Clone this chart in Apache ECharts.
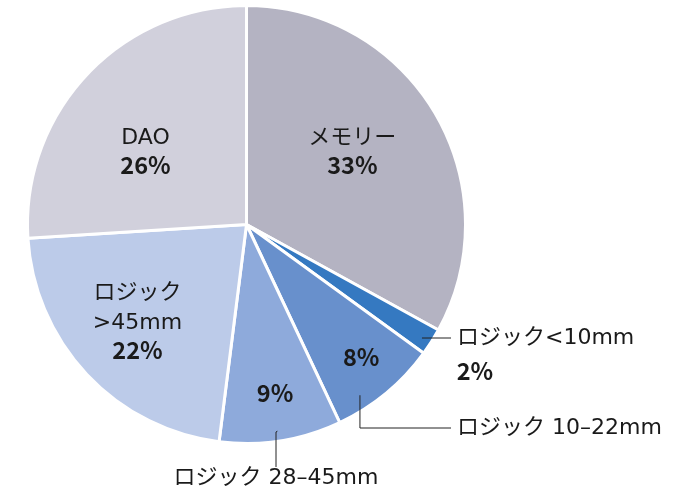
<!DOCTYPE html>
<html><head><meta charset="utf-8">
<script src="https://cdn.jsdelivr.net/npm/echarts@6/dist/echarts.min.js"></script>
<style>html,body{margin:0;padding:0;background:#fff}#c{width:692px;height:494px}</style>
</head><body><div id="c"></div>
<script>
// ---- data ----
const categories = ['メモリー', 'ロジック<10mm', 'ロジック 10–22mm', 'ロジック 28–45mm', 'ロジック >45mm', 'DAO'];
const shares = [33, 2, 8, 9, 22, 26];

// ---- style ----
const colors = ['#b4b3c2', '#3579c1', '#6890cc', '#8eaadb', '#bccbe9', '#d1d0dc'];
const insideMode = ['name', 'value', 'value', 'value', 'name', 'name'];
const insideOffset = [[9, -17], [133.5, 86.3], [43, 46], [11, 57], [-27, 19], [-19, 2.5]];
// outside labels: which helper series shows which item
const outsideShowA = [false, true, false, true, false, false];
const outsideShowB = [false, false, true, false, false, false];
const outsidePlace = [null, {x: 451, y: 338, align: 'left'}, {x: 451, y: 428, align: 'left'}, {x: 276, y: 478, align: 'center'}, null, null];
const outsideLen2 = [0, 20, 100, 35, 0, 0];

const FONT = '"DejaVu Sans", "Noto Sans CJK JP", sans-serif';
const FONT_B = '"Noto Sans CJK JP", "Noto Sans", sans-serif';
const TXT = '#1a1a1a';
const center = [246.5, 224.5];

function helperSeries(show, radius, startAngle) {
  return {
    type: 'pie',
    center: center,
    radius: radius,
    startAngle: startAngle,
    clockwise: true,
    silent: true,
    z: 3,
    avoidLabelOverlap: false,
    emphasis: {disabled: true, scale: false},
    itemStyle: {color: 'rgba(0,0,0,0)', borderWidth: 0},
    label: {
      position: 'outside',
      color: TXT,
      fontSize: 22,
      fontFamily: FONT,
      textBorderWidth: 0,
      formatter: p => {
        const o = outsidePlace[p.dataIndex];
        return (o && o.align === 'left' ? '{g| }' : '') + '{t|' + p.name + '}';
      },
      rich: {
        g: {width: 6, fontSize: 22, fontFamily: FONT},
        t: {fontSize: 22, fontFamily: FONT, color: TXT}
      }
    },
    labelLine: {show: true, length: 10, lineStyle: {color: '#222222', width: 1}},
    labelLayout: p => {
      const o = outsidePlace[p.dataIndex];
      return o ? {x: o.x, y: o.y, align: o.align, verticalAlign: 'middle'} : {};
    },
    data: categories.map((n, i) => ({
      name: n, value: shares[i],
      label: {show: show[i]},
      labelLine: {show: show[i], length2: outsideLen2[i]}
    }))
  };
}

const chart = echarts.init(document.getElementById('c'), null, {renderer: 'canvas'});
chart.setOption({
  animation: false,
  backgroundColor: '#ffffff',
  series: [
    {
      type: 'pie',
      center: center,
      radius: 219,
      startAngle: 90,
      clockwise: true,
      avoidLabelOverlap: false,
      emphasis: {disabled: true, scale: false},
      itemStyle: {borderColor: '#ffffff', borderWidth: 3},
      label: {
        show: true,
        position: 'inside',
        color: TXT,
        fontFamily: FONT,
        textBorderWidth: 0,
        formatter: p => {
          if (insideMode[p.dataIndex] === 'name') {
            return p.name.split(' ').map(s => '{n|' + s + '}').join('\n') + '\n{b|' + p.value + '%}';
          }
          return '{b|' + p.value + '%}';
        },
        rich: {
          n: {fontSize: 22, fontWeight: 'normal', color: TXT, fontFamily: FONT, lineHeight: 30},
          b: {fontSize: 23.5, fontWeight: 'bold', color: TXT, fontFamily: FONT_B, lineHeight: 24}
        }
      },
      labelLine: {show: false},
      labelLayout: p => ({dx: insideOffset[p.dataIndex][0], dy: insideOffset[p.dataIndex][1]}),
      data: categories.map((n, i) => ({name: n, value: shares[i], itemStyle: {color: colors[i]}}))
    },
    helperSeries(outsideShowA, 209, 89.5),
    helperSeries(outsideShowB, 205, 84)
  ]
});
</script>
</body></html>
